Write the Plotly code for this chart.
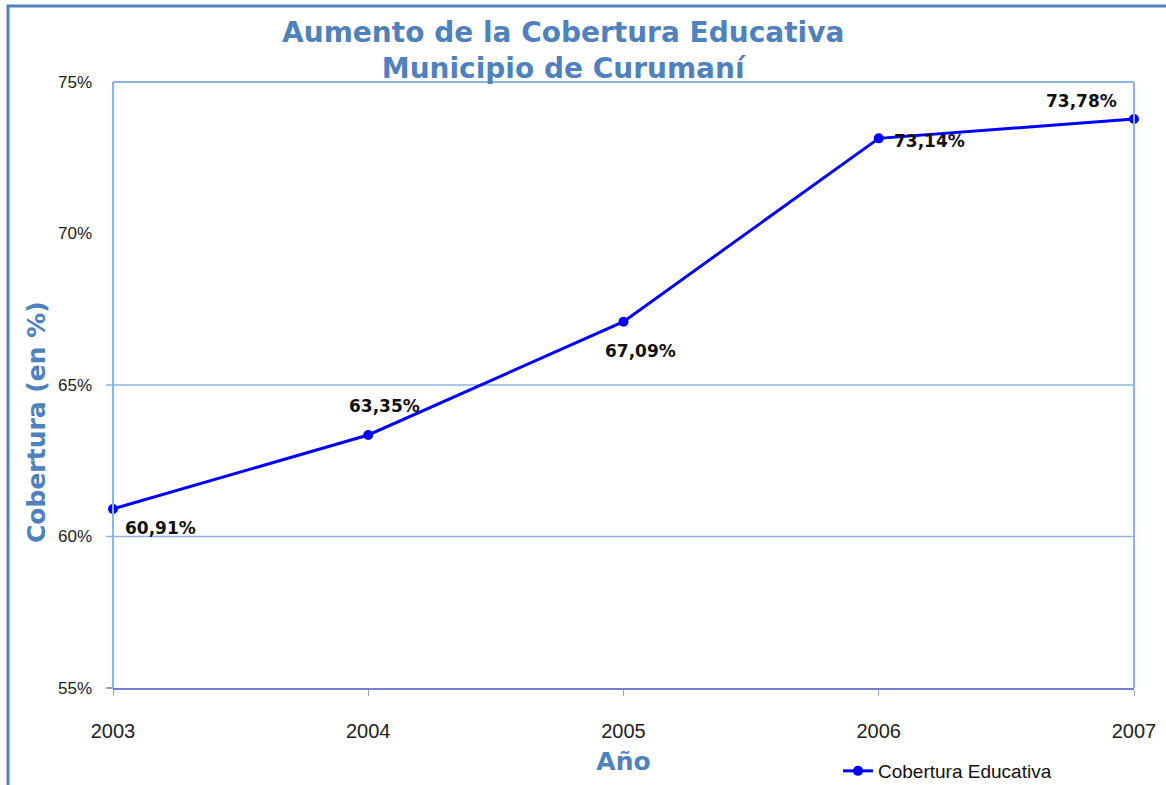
import plotly.graph_objects as go

years = [2003, 2004, 2005, 2006, 2007]
coverage = [60.91, 63.35, 67.09, 73.14, 73.78]
labels = ["60,91%", "63,35%", "67,09%", "73,14%", "73,78%"]
y_ticks = [55, 60, 65, 70, 75]
y_tick_text = ["55%", "60%", "65%", "70%", "75%"]
grid_values = [60, 65]

# label offsets (pixels) relative to each point
label_dx = [47, 16, 17, 51, -53]
label_dy = [-19, 29, -29, -3, 18]

BLUE_T = "#4F81BD"
FRAME = "#8EB4E3"
AXIS = "#7A7FCB"

fig = go.Figure()
fig.add_trace(go.Scatter(
    x=years, y=coverage, mode="lines+markers", name="Cobertura Educativa",
    line=dict(color="#0000FF", width=3),
    marker=dict(color="#0000FF", size=10),
    cliponaxis=False,
))

for x, y, t, dx, dy in zip(years, coverage, labels, label_dx, label_dy):
    fig.add_annotation(x=x, y=y, text=t, showarrow=False, xshift=dx, yshift=dy,
                       font=dict(family="DejaVu Sans", size=17, color="#111111", weight="bold"),
                       xref="x", yref="y")

# y-axis title placed as in the reference (below plot centre)
fig.add_annotation(x=(36-113)/1021, y=(688-422)/606, xref="paper", yref="paper",
                   text="Cobertura (en %)", textangle=-90, showarrow=False,
                   xanchor="center", yanchor="middle",
                   font=dict(family="DejaVu Sans", size=25, color=BLUE_T, weight="bold"))

shapes = []
for g in grid_values:
    shapes.append(dict(type="line", xref="paper", yref="y", x0=-7/1021, x1=1, y0=g, y1=g,
                       line=dict(color=FRAME, width=1.5), layer="below"))
# plot frame (left, top, right)
shapes.append(dict(type="line", xref="paper", yref="paper", x0=0, x1=0, y0=0, y1=1,
                   line=dict(color=FRAME, width=2)))
shapes.append(dict(type="line", xref="paper", yref="paper", x0=0, x1=1, y0=1, y1=1,
                   line=dict(color=FRAME, width=2)))
shapes.append(dict(type="line", xref="paper", yref="paper", x0=1, x1=1, y0=0, y1=1,
                   line=dict(color=FRAME, width=2)))
# y tick for 55 extension
shapes.append(dict(type="line", xref="paper", yref="paper", x0=-7/1021, x1=0, y0=0, y1=0,
                   line=dict(color=AXIS, width=1.5)))
# outer chart border (left and top visible)
shapes.append(dict(type="rect", xref="paper", yref="paper",
                   x0=-105/1021, x1=1080/1021, y0=(688-800)/606, y1=(688-6)/606,
                   line=dict(color=BLUE_T, width=3), fillcolor="rgba(0,0,0,0)", layer="above"))

fig.update_layout(
    width=1166, height=785,
    margin=dict(l=113, r=32, t=82, b=97, autoexpand=False),
    paper_bgcolor="white", plot_bgcolor="white",
    title=dict(text="Aumento de la Cobertura Educativa<br>Municipio de Curumaní",
               x=0.483, xanchor="center", y=1 - 42/785, yanchor="middle",
               font=dict(family="DejaVu Sans", size=28, color=BLUE_T, weight="bold")),
    xaxis=dict(range=[2003, 2007], tickmode="array", tickvals=years,
               ticktext=[str(y) for y in years],
               showgrid=False, zeroline=False, showline=True, linecolor=AXIS, linewidth=1.5,
               ticks="outside", ticklen=6, tickcolor="#9AA0D8", ticklabelstandoff=18,
               tickfont=dict(family="Liberation Sans", size=20, color="#222222"),
               title=dict(text="Año", standoff=12,
                          font=dict(family="DejaVu Sans", size=25, color=BLUE_T, weight="bold"))),
    yaxis=dict(range=[55, 75], tickmode="array", tickvals=y_ticks, ticktext=y_tick_text,
               showgrid=False, zeroline=False, showline=False, ticks="",
               ticklabelstandoff=20,
               tickfont=dict(family="Liberation Sans", size=17, color="#222222")),
    legend=dict(x=(838-113)/1021, y=(688-752)/606, xanchor="left", yanchor="top",
                orientation="h", bgcolor="rgba(0,0,0,0)",
                font=dict(family="Liberation Sans", size=19, color="#111111"),
                itemwidth=30),
    showlegend=True,
    shapes=shapes,
)

fig.write_html("out.html", config={"displayModeBar": False},
               post_script="document.body.style.margin='0';")
